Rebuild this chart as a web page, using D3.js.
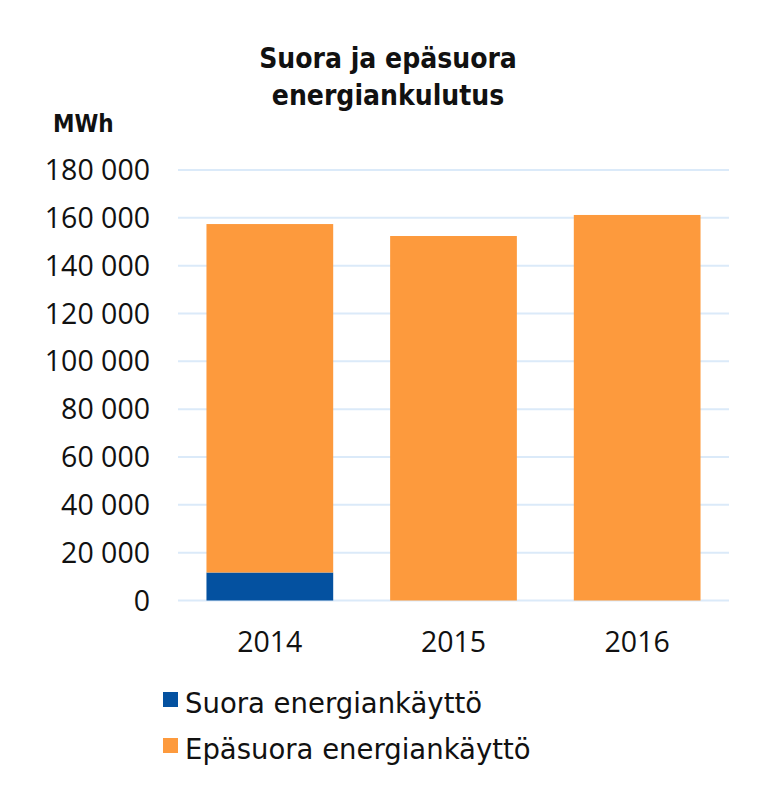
<!DOCTYPE html>
<html>
<head>
<meta charset="utf-8">
<script src="https://cdn.jsdelivr.net/npm/d3@7"></script>
<style>
body { margin: 0; padding: 0; background: #fff; }
</style>
</head>
<body>
<script>
var years   = ['2014', '2015', '2016'];
var suora   = [11700, 0, 0];              // direct use, MWh
var epasuora = [145700, 152400, 161200];  // indirect use, MWh
var ticks   = [0, 20000, 40000, 60000, 80000, 100000, 120000, 140000, 160000, 180000];
var seriesNames = ['Suora energiankäyttö', 'Epäsuora energiankäyttö'];
var colors  = ['#0451a0', '#fd9a3d'];

var W = 762, H = 798;
var plotLeft = 178, plotRight = 729, plotTop = 170, plotBottom = 600.5;

var svg = d3.select('body').append('svg')
  .attr('width', W).attr('height', H);

var x = d3.scaleBand().domain(years).range([plotLeft, plotRight]).paddingInner(0.31).paddingOuter(0.155);
var y = d3.scaleLinear().domain([0, 180000]).range([plotBottom, plotTop]);

// gridlines
svg.append('g').selectAll('line').data(ticks).join('line')
  .attr('x1', plotLeft).attr('x2', plotRight)
  .attr('y1', function (d) { return y(d); }).attr('y2', function (d) { return y(d); })
  .attr('stroke', '#dbeaf9').attr('stroke-width', 2);

// y tick labels
var fmt = function (d) { return d3.format(',')(d).replace(/,/g, ' '); };
svg.append('g').selectAll('text').data(ticks).join('text')
  .attr('x', 150).attr('y', function (d) { return y(d) + 10; })
  .attr('text-anchor', 'end')
  .style('font-family', 'Open Sans, sans-serif').style('font-size', '28.5px').style('fill', '#111')
  .text(fmt);

// stacked bars
var rows = years.map(function (yr, i) { return { year: yr, s: suora[i], e: epasuora[i] }; });
var stack = d3.stack().keys(['s', 'e'])(rows);
svg.append('g').selectAll('g').data(stack).join('g')
  .attr('fill', function (d, i) { return colors[i]; })
  .selectAll('rect').data(function (d) { return d; }).join('rect')
  .attr('x', function (d) { return x(d.data.year); })
  .attr('width', x.bandwidth())
  .attr('y', function (d) { return y(d[1]); })
  .attr('height', function (d) { return y(d[0]) - y(d[1]); });

// x labels
svg.append('g').selectAll('text').data(years).join('text')
  .attr('x', function (d) { return x(d) + x.bandwidth() / 2; }).attr('y', 652)
  .attr('text-anchor', 'middle')
  .style('font-family', 'Open Sans, sans-serif').style('font-size', '28.5px').style('fill', '#111')
  .text(function (d) { return d; });

// title
var title = svg.append('text').attr('x', 388).attr('text-anchor', 'middle')
  .style('font-family', 'DejaVu Sans Condensed, DejaVu Sans, sans-serif')
  .style('font-weight', 'bold').style('font-size', '28px').style('fill', '#111');
title.append('tspan').attr('x', 388).attr('y', 68).text('Suora ja epäsuora');
title.append('tspan').attr('x', 388).attr('y', 105).text('energiankulutus');

// unit
svg.append('text').attr('x', 53).attr('y', 132)
  .style('font-family', 'DejaVu Sans Condensed, DejaVu Sans, sans-serif')
  .style('font-weight', 'bold').style('font-size', '24px').style('fill', '#111')
  .text('MWh');

// legend
var lg = svg.append('g').selectAll('g').data(seriesNames).join('g')
  .attr('transform', function (d, i) { return 'translate(163,' + (692 + i * 46) + ')'; });
lg.append('rect').attr('width', 15).attr('height', 15)
  .attr('fill', function (d, i) { return colors[i]; });
lg.append('text').attr('x', 22).attr('y', 21)
  .style('font-family', 'DejaVu Sans, sans-serif').style('font-size', '27.5px').style('fill', '#111')
  .text(function (d) { return d; });
</script>
</body>
</html>
